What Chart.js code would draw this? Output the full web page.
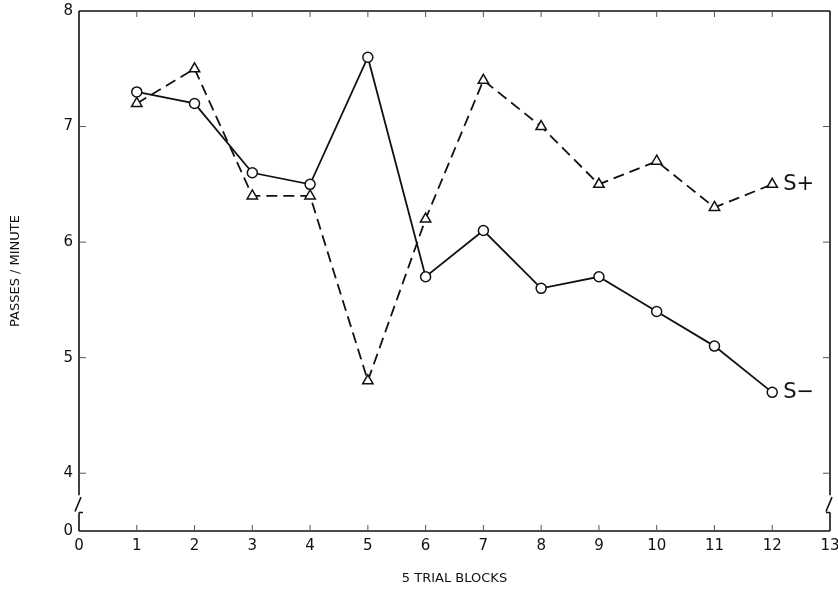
<!DOCTYPE html>
<html>
<head>
<meta charset="utf-8">
<script src="https://cdn.jsdelivr.net/npm/chart.js@4/dist/chart.umd.min.js"></script>
<style>
  html, body { margin: 0; padding: 0; background: #fff; }
  #wrap { width: 838px; height: 590px; }
</style>
</head>
<body>
<div id="wrap"><canvas id="chart"></canvas></div>
<script>
const blocks = [1, 2, 3, 4, 5, 6, 7, 8, 9, 10, 11, 12];
const sMinus = [7.3, 7.2, 6.6, 6.5, 7.6, 5.7, 6.1, 5.6, 5.7, 5.4, 5.1, 4.7];
const sPlus = [7.2, 7.5, 6.4, 6.4, 4.8, 6.2, 7.4, 7.0, 6.5, 6.7, 6.3, 6.5];
const xTicks = [0, 1, 2, 3, 4, 5, 6, 7, 8, 9, 10, 11, 12, 13];
const yTicks = [3.5, 4, 5, 6, 7, 8]; // 3.5 sits below the axis break and reads "0"
const FONT = "'DejaVu Sans', sans-serif";

// frame, inward ticks, axis breaks and the S+ / S- labels
const framePlugin = {
  id: 'frame',
  afterDraw(chart) {
    const { ctx, chartArea: a, scales } = chart;
    const x = scales.x, y = scales.y;
    const brTop = y.getPixelForValue(3.81);
    const brBot = y.getPixelForValue(3.66);
    ctx.save();
    ctx.strokeStyle = '#111';
    ctx.lineWidth = 1.6;
    ctx.beginPath();
    // top and bottom
    ctx.moveTo(a.left, a.top); ctx.lineTo(a.right, a.top);
    ctx.moveTo(a.left, a.bottom); ctx.lineTo(a.right, a.bottom);
    // left / right with breaks
    [a.left, a.right].forEach(px => {
      ctx.moveTo(px, a.top); ctx.lineTo(px, brTop);
      ctx.moveTo(px + 2, brTop + 2); ctx.lineTo(px - 4, brBot - 1);
      ctx.moveTo(px, brBot); ctx.lineTo(px, a.bottom);
    });
    ctx.moveTo(a.left, brBot); ctx.lineTo(a.left + 4, brBot);
    ctx.moveTo(a.right, brBot); ctx.lineTo(a.right - 4, brBot);
    ctx.stroke();

    // inward ticks
    ctx.lineWidth = 1;
    ctx.strokeStyle = '#555';
    ctx.beginPath();
    xTicks.slice(1, -1).forEach(v => {
      const px = x.getPixelForValue(v);
      ctx.moveTo(px, a.bottom); ctx.lineTo(px, a.bottom - 6);
      ctx.moveTo(px, a.top); ctx.lineTo(px, a.top + 6);
    });
    yTicks.slice(1, -1).forEach(v => {
      const py = y.getPixelForValue(v);
      ctx.moveTo(a.left, py); ctx.lineTo(a.left + 7, py);
      ctx.moveTo(a.right, py); ctx.lineTo(a.right - 7, py);
    });
    ctx.stroke();

    // series labels
    ctx.fillStyle = '#111';
    ctx.font = '21px ' + FONT;
    ctx.textBaseline = 'middle';
    ctx.textAlign = 'left';
    const last = blocks.length - 1;
    const lx = x.getPixelForValue(blocks[last]) + 11;
    ctx.fillText('S+', lx, y.getPixelForValue(sPlus[last]));
    ctx.fillText('S\u2212', lx, y.getPixelForValue(sMinus[last]));
    ctx.restore();
  }
};

new Chart(document.getElementById('chart'), {
  type: 'line',
  data: {
    labels: blocks,
    datasets: [
      {
        label: 'S-',
        data: blocks.map((b, i) => ({ x: b, y: sMinus[i] })),
        borderColor: '#111',
        borderWidth: 1.8,
        backgroundColor: '#fff',
        pointStyle: 'circle',
        pointRadius: 5,
        pointBorderWidth: 1.5,
        pointBorderColor: '#111',
        pointBackgroundColor: '#fff',
        tension: 0
      },
      {
        label: 'S+',
        data: blocks.map((b, i) => ({ x: b, y: sPlus[i] })),
        borderColor: '#111',
        borderWidth: 1.8,
        borderDash: [11, 6],
        backgroundColor: '#fff',
        pointStyle: 'triangle',
        pointRadius: 6,
        pointBorderWidth: 1.5,
        pointBorderColor: '#111',
        pointBackgroundColor: '#fff',
        tension: 0
      }
    ]
  },
  options: {
    responsive: true,
    maintainAspectRatio: false,
    animation: false,
    layout: { padding: { left: 0, right: 8, top: 11, bottom: 0 } },
    plugins: { legend: { display: false }, tooltip: { enabled: false } },
    scales: {
      x: {
        type: 'linear',
        min: 0,
        max: 13,
        afterBuildTicks: s => { s.ticks = xTicks.map(v => ({ value: v })); },
        afterFit: s => { s.height = 59; s.paddingLeft = 0; s.paddingRight = 0; },
        grid: { display: false, drawTicks: false },
        border: { display: false },
        ticks: { color: '#111', padding: 6, maxRotation: 0, font: { family: FONT, size: 15 } },
        title: {
          display: true,
          text: '5 TRIAL BLOCKS',
          color: '#111',
          padding: { top: 8, bottom: 4 },
          font: { family: FONT, size: 13 }
        }
      },
      y: {
        type: 'linear',
        min: 3.5,
        max: 8,
        afterBuildTicks: s => { s.ticks = yTicks.map(v => ({ value: v })); },
        afterFit: s => { s.width = 79; s.paddingTop = 0; s.paddingBottom = 0; },
        grid: { display: false, drawTicks: false },
        border: { display: false },
        ticks: {
          color: '#111',
          padding: 6,
          font: { family: FONT, size: 15 },
          callback: v => (v === 3.5 ? '0' : String(v))
        },
        title: {
          display: true,
          text: 'PASSES / MINUTE',
          color: '#111',
          padding: { top: 8, bottom: 4 },
          font: { family: FONT, size: 13 }
        }
      }
    }
  },
  plugins: [framePlugin]
});
</script>
</body>
</html>
